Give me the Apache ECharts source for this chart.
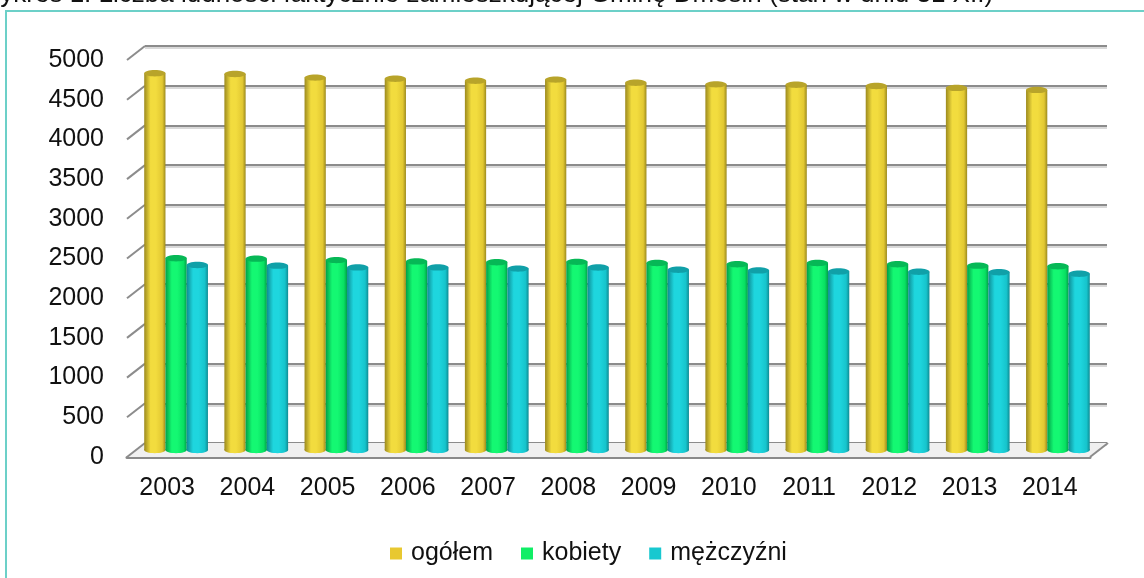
<!doctype html>
<html lang="pl">

<head>
  <meta charset="utf-8">
  <title>Wykres 1. Liczba ludności Gminy Dmosin</title>
  <script src="https://cdn.jsdelivr.net/npm/echarts@6.0.0/dist/echarts.min.js"></script>
  <style>
    html, body {
      margin: 0;
      padding: 0;
      background: #fff;
    }
    #chart {
      width: 1144px;
      height: 578px;
    }
  </style>
</head>

<body>
  <div id="chart"></div>
  <script>
    // dane (stan w dniu 31 XII)
    const years = ['2003', '2004', '2005', '2006', '2007', '2008', '2009', '2010', '2011', '2012', '2013', '2014'];
    const ogolem = [4745, 4735, 4690, 4675, 4650, 4665, 4625, 4605, 4600, 4585, 4560, 4535];
    const kobiety = [2415, 2410, 2392, 2375, 2365, 2370, 2355, 2340, 2355, 2340, 2322, 2315];
    const mezczyzni = [2330, 2322, 2300, 2300, 2285, 2298, 2270, 2262, 2248, 2245, 2238, 2220];
    const yTicks = [0, 500, 1000, 1500, 2000, 2500, 3000, 3500, 4000, 4500, 5000];

    const font = "'Liberation Sans', Arial, sans-serif";
    const DX = 18, DY = -14;  // przesunięcie ściany tylnej (efekt 3D)

    const palette = [
      { name: 'ogółem', legend: '#e8c830', edge: '#9c8a1e', light: '#f2dc3e', mid: '#e2c832', top: '#b8a42a' },
      { name: 'kobiety', legend: '#10ee66', edge: '#00a048', light: '#14f872', mid: '#08e062', top: '#06b856' },
      { name: 'mężczyźni', legend: '#18c8d0', edge: '#0e8c94', light: '#1ed6de', mid: '#16c4cc', top: '#10a0a8' }
    ];

    function cylinder(idx) {
      const c = palette[idx];
      const grad = {
        type: 'linear', x: 0, y: 0, x2: 1, y2: 0,
        colorStops: [
          { offset: 0, color: c.edge },
          { offset: 0.3, color: c.light },
          { offset: 0.55, color: c.light },
          { offset: 0.85, color: c.mid },
          { offset: 1, color: c.edge }
        ]
      };
      return function (params, api) {
        const top = api.coord([api.value(0), api.value(1)]);
        const base = api.coord([api.value(0), 0]);
        const band = api.size([1, 0])[0];
        const w = band * 0.265;
        const x = top[0] - 1.5 * w + idx * w;
        const ry = w * 0.15;
        return {
          type: 'group',
          children: [
            { type: 'ellipse', shape: { cx: x + w / 2, cy: base[1], rx: w / 2, ry: ry }, style: { fill: grad } },
            { type: 'rect', shape: { x: x, y: top[1], width: w, height: base[1] - top[1] }, style: { fill: grad } },
            { type: 'ellipse', shape: { cx: x + w / 2, cy: top[1], rx: w / 2, ry: ry }, style: { fill: c.top } }
          ]
        };
      };
    }

    function decoration(params, api) {
      const v = api.value(1);
      const p = api.coord([0, v]);
      const q = api.coord([1, v]);
      const children = [];
      if (v === 0) {
        children.push({
          type: 'polygon',
          shape: { points: [p, q, [q[0] + DX, q[1] + DY], [p[0] + DX, p[1] + DY]] },
          style: { fill: '#f0f0f0', stroke: null }
        });
        children.push({
          type: 'line',
          shape: { x1: q[0], y1: q[1], x2: q[0] + DX, y2: q[1] + DY },
          style: { stroke: '#8c8c8c', lineWidth: 2 }
        });
      }
      children.push({
        type: 'line',
        shape: { x1: p[0], y1: p[1], x2: p[0] + DX, y2: p[1] + DY },
        style: { stroke: '#8c8c8c', lineWidth: 2 }
      });
      return { type: 'group', children: children };
    }

    const chart = echarts.init(document.getElementById('chart'));
    const seriesData = [ogolem, kobiety, mezczyzni];

    const option = {
      animation: false,
      textStyle: { fontFamily: font },
      title: {
        text: 'Wykres 1. Liczba ludności faktycznie zamieszkującej Gminę Dmosin (stan w dniu 31 XII)',
        left: -24,
        top: -18,
        padding: 0,
        textStyle: { fontSize: 26, fontWeight: 'normal', color: '#111', fontFamily: font }
      },
      legend: {
        data: palette.map(c => c.name),
        left: 385,
        top: 536,
        icon: 'rect',
        itemWidth: 12,
        itemHeight: 12,
        itemGap: 28,
        textStyle: { fontSize: 25, color: '#111', fontFamily: font, padding: [0, 0, 0, 4] }
      },
      graphic: [{
        type: 'rect',
        shape: { x: 6, y: 11, width: 1200, height: 700 },
        style: { fill: null, stroke: '#6cd0c8', lineWidth: 2 },
        silent: true
      }],
      grid: [
        { left: 127, right: 54, top: 60, bottom: 121 },  // przód
        { left: 136, right: 46, top: 53, bottom: 128 },  // środek (słupki)
        { left: 145, right: 37, top: 46, bottom: 135 }   // ściana tylna
      ],
      xAxis: [
        {
          type: 'category', gridIndex: 0, data: years,
          axisLine: { lineStyle: { color: '#8a8a8a', width: 3 } },
          axisTick: { show: false },
          axisLabel: { fontSize: 25, color: '#111', margin: 19, fontFamily: font }
        },
        { type: 'category', gridIndex: 1, data: years, show: false },
        { type: 'category', gridIndex: 2, data: years, show: false },
        { type: 'value', gridIndex: 0, min: 0, max: 1, show: false, position: 'top' }
      ],
      yAxis: [
        {
          type: 'value', gridIndex: 0, min: 0, max: 5000, interval: 500,
          axisLine: { show: false },
          axisTick: { show: false },
          splitLine: { show: false },
          axisLabel: { fontSize: 25, color: '#111', margin: 23, fontFamily: font, formatter: v => String(v) }
        },
        { type: 'value', gridIndex: 1, min: 0, max: 5000, interval: 500, show: false, splitLine: { show: false } },
        {
          type: 'value', gridIndex: 2, min: 0, max: 5000, interval: 500,
          axisLine: { show: false },
          axisTick: { show: false },
          axisLabel: { show: false },
          splitLine: {
            lineStyle: {
              color: '#8c8c8c', width: 2,
              shadowColor: 'rgba(0,0,0,0.15)', shadowOffsetY: 2, shadowBlur: 0
            }
          }
        }
      ],
      series: [
        {
          type: 'custom', name: 'dekoracja', xAxisIndex: 3, yAxisIndex: 0, z: 1,
          silent: true,
          data: yTicks.map(v => [0, v]),
          renderItem: decoration
        }
      ].concat(palette.map((c, i) => ({
        type: 'custom',
        name: c.name,
        xAxisIndex: 1,
        yAxisIndex: 1,
        z: 3,
        itemStyle: { color: c.legend },
        data: seriesData[i].map((v, j) => [j, v]),
        renderItem: cylinder(i)
      })))
    };

    chart.setOption(option);
  </script>
</body>

</html>
